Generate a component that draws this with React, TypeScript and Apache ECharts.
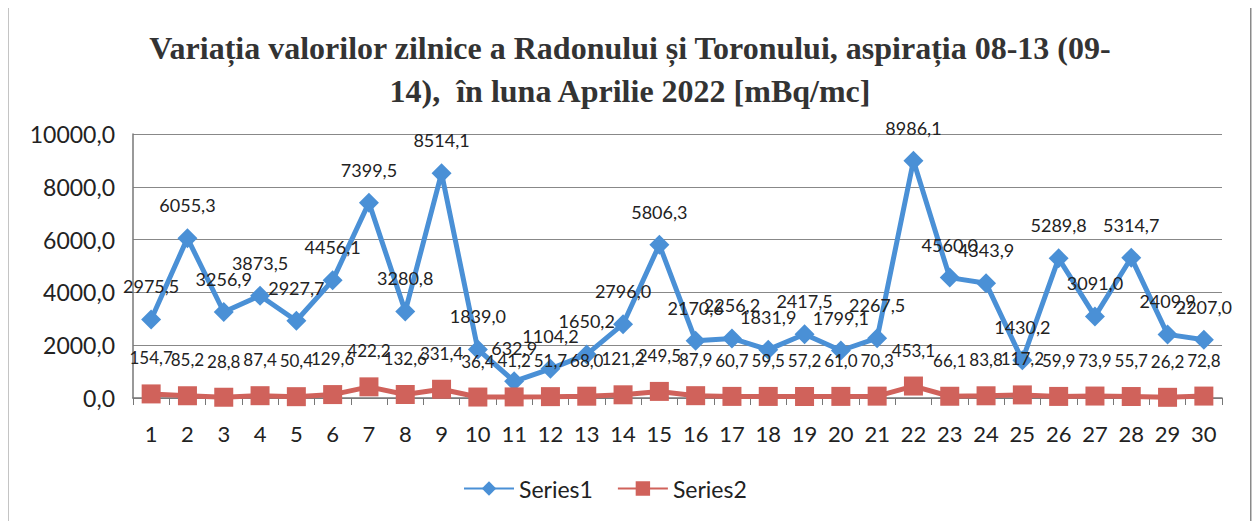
import React, { useEffect, useRef } from "react";
import * as echarts from "echarts";

const days = ["1","2","3","4","5","6","7","8","9","10","11","12","13","14","15","16","17","18","19","20","21","22","23","24","25","26","27","28","29","30"];
const series1 = [2975.5, 6055.3, 3256.9, 3873.5, 2927.7, 4456.1, 7399.5, 3280.8, 8514.1, 1839.0, 632.9, 1104.2, 1650.2, 2796.0, 5806.3, 2170.6, 2256.2, 1831.9, 2417.5, 1799.1, 2267.5, 8986.1, 4560.0, 4343.9, 1430.2, 5289.8, 3091.0, 5314.7, 2409.9, 2207.0];
const series2 = [154.7, 85.2, 28.8, 87.4, 50.4, 129.6, 422.2, 132.6, 331.4, 36.4, 41.2, 51.7, 68.0, 121.2, 249.5, 87.9, 60.7, 59.5, 57.2, 61.0, 70.3, 453.1, 66.1, 83.8, 117.2, 59.9, 73.9, 55.7, 26.2, 72.8];
const titleText = "Variația valorilor zilnice a Radonului și Toronului, aspirația 08-13 (09-\n14),  în luna Aprilie 2022 [mBq/mc]";

const fmt = (v: number) => v.toFixed(1).replace(".", ",");
const FONT = "Lato";

export default function App() {
  const ref = useRef<HTMLDivElement>(null);
  useEffect(() => {
    const chart = echarts.init(ref.current!, null, { renderer: "svg" });
    chart.setOption({
      animation: false,
      backgroundColor: "#ffffff",
      title: {
        text: titleText,
        left: "center",
        top: 21,
        textStyle: {
          fontFamily: "Liberation Serif",
          fontWeight: "bold",
          fontSize: 32,
          lineHeight: 43,
          color: "#333333",
        },
      },
      grid: { left: 133, right: 38, top: 134, bottom: 131 },
      legend: {
        bottom: 24,
        left: 458,
        itemWidth: 50,
        itemHeight: 18,
        itemGap: 24,
        textStyle: { fontFamily: FONT, fontSize: 23, color: "#222" },
        data: ["Series1", "Series2"],
      },
      xAxis: {
        type: "category",
        data: days,
        boundaryGap: true,
        axisLine: { lineStyle: { color: "#777", width: 1.5 } },
        axisTick: { show: true, inside: false, length: 7, lineStyle: { color: "#777" } },
        axisLabel: { fontFamily: FONT, fontSize: 22, color: "#222", margin: 24 },
      },
      yAxis: {
        type: "value",
        min: 0,
        max: 10000,
        interval: 2000,
        axisLine: { show: true, lineStyle: { color: "#777", width: 1.5 } },
        axisTick: { show: false },
        splitLine: { lineStyle: { color: "#888", width: 1.2 } },
        axisLabel: { fontFamily: FONT, fontSize: 23, color: "#222", margin: 18, formatter: (v: number) => fmt(v) },
      },
      series: [
        {
          name: "Series1",
          type: "line",
          data: series1,
          symbol: "diamond",
          symbolSize: 20,
          lineStyle: { color: "#4a90d6", width: 5 },
          itemStyle: { color: "#4a90d6" },
          label: {
            show: true,
            position: "top",
            distance: 14,
            fontFamily: FONT,
            fontSize: 18,
            color: "#222",
            formatter: (p: any) => fmt(p.value),
          },
        },
        {
          name: "Series2",
          type: "line",
          data: series2,
          symbol: "rect",
          symbolSize: 19,
          lineStyle: { color: "#d0625b", width: 5 },
          itemStyle: { color: "#d0625b" },
          label: {
            show: true,
            position: "top",
            distance: 18,
            fontFamily: FONT,
            fontSize: 17,
            color: "#222",
            formatter: (p: any) => fmt(p.value),
          },
        },
      ],
      graphic: [
        {
          type: "rect",
          left: 7,
          top: 5,
          shape: { x: 0, y: 0, width: 1243, height: 530 },
          style: { fill: "rgba(0,0,0,0)", stroke: "#8a8a8a", lineWidth: 1.5 },
          silent: true,
        },
      ],
    });
    return () => chart.dispose();
  }, []);
  return <div ref={ref} style={{ width: 1260, height: 529, margin: -8 }} />;
}
